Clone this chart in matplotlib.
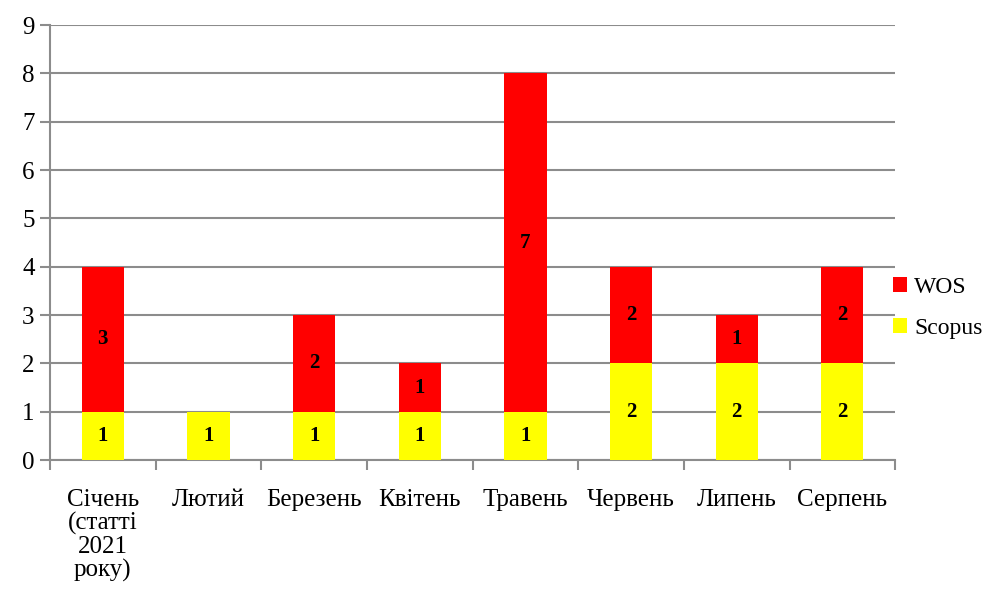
import numpy as np
import matplotlib
matplotlib.use("Agg")
import matplotlib.pyplot as plt
from matplotlib.patches import Patch

months = ["Січень\n(статті\n2021\nроку)", "Лютий", "Березень", "Квітень",
          "Травень", "Червень", "Липень", "Серпень"]
scopus = [1, 1, 1, 1, 1, 2, 2, 2]
wos = [3, 0, 2, 1, 7, 2, 1, 2]

plt.rcParams["font.family"] = ["Liberation Serif", "DejaVu Serif"]
grid_c = "#8c8c8c"

fig = plt.figure(figsize=(9.92, 6.01), dpi=100)
ax = fig.add_axes([0.0504, 0.2346, 0.852, 0.7238])

x = np.arange(len(months))
b1 = ax.bar(x, scopus, width=0.4, color="#ffff00", zorder=3)
b2 = ax.bar(x, wos, width=0.4, bottom=scopus, color="#ff0000", zorder=3)

# value labels in the middle of each segment
for rect, v in zip(b1, scopus):
    if v:
        ax.text(rect.get_x() + rect.get_width() / 2, rect.get_y() + v / 2, str(v),
                ha="center", va="center", fontsize=15, fontweight="bold", zorder=4)
for rect, v in zip(b2, wos):
    if v:
        ax.text(rect.get_x() + rect.get_width() / 2, rect.get_y() + v / 2, str(v),
                ha="center", va="center", fontsize=15, fontweight="bold", zorder=4)

ax.set_xlim(-0.5, len(months) - 0.5)
ax.set_ylim(0, 9)
ax.set_yticks(range(10))
ax.yaxis.grid(True, color=grid_c, linewidth=1.5, zorder=0)
ax.set_xticks(x)
ax.set_xticklabels(months, fontsize=18, linespacing=1.05)
ax.set_xticks(np.arange(-0.5, len(months)), minor=True)
ax.tick_params(axis="x", which="major", length=0, pad=21)
ax.tick_params(axis="x", which="minor", length=7, width=1.5, color=grid_c)
ax.tick_params(axis="y", length=7, width=1.5, color=grid_c, labelsize=18, pad=4)

for s in ["top", "right"]:
    ax.spines[s].set_visible(False)
for s in ["left", "bottom"]:
    ax.spines[s].set_color(grid_c)
    ax.spines[s].set_linewidth(1.5)

handles = [Patch(facecolor="#ff0000", label="WOS"),
           Patch(facecolor="#ffff00", label="Scopus")]
fig.legend(handles=handles, loc="upper left", bbox_to_anchor=(0.879, 0.575),
           frameon=False, fontsize=17, handlelength=0.6, handleheight=0.6,
           handletextpad=0.3, labelspacing=0.85)

fig.savefig("out.png", dpi=100)
